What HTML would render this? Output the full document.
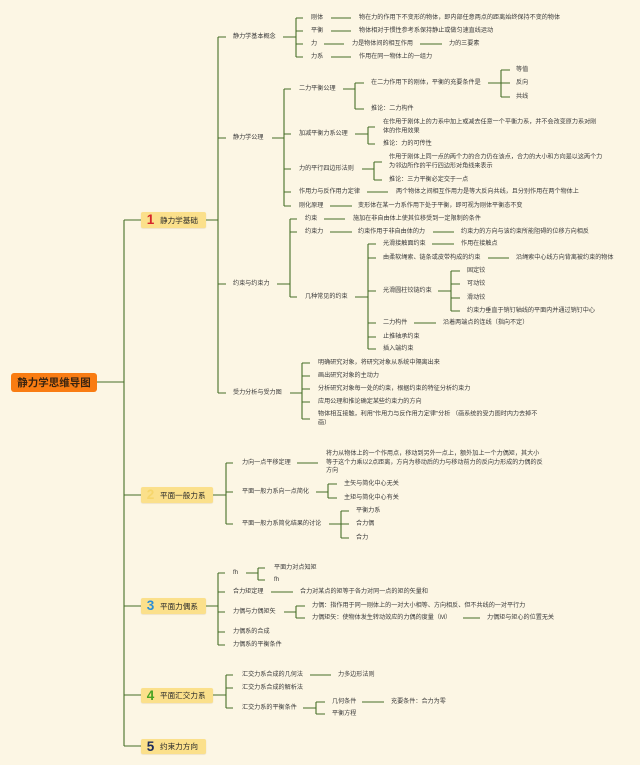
<!DOCTYPE html>
<html>
<head>
<meta charset="utf-8">
<style>
  html,body{margin:0;padding:0;}
  body{width:640px;height:765px;background:#fcf6e4;position:relative;overflow:hidden;
       font-family:"Liberation Sans","Noto Sans CJK SC",sans-serif;}
  svg{position:absolute;left:0;top:0;}
  .t{position:absolute;font-size:6.1px;line-height:8.5px;white-space:nowrap;color:#3a3a3a;transform:translateY(-50%);}
  .box{position:absolute;background:#fbe08b;border-radius:2px;display:flex;align-items:center;box-shadow:0 0.5px 1px rgba(160,120,40,0.25);}
  .box .n{font-weight:bold;font-size:13.5px;line-height:14px;width:19px;text-align:center;}
  .box .l{font-size:7.6px;color:#2a2a2a;}
  .root{position:absolute;left:11px;top:373px;width:86px;height:19px;background:#f97c12;border-radius:3px;
        display:flex;align-items:center;justify-content:center;font-weight:bold;font-size:10.5px;color:#3a2410;}
</style>
</head>
<body>
<svg width="640" height="765" viewBox="0 0 640 765">
<path fill="none" stroke="#466f28" stroke-width="1.1" d="
M97 382H124
M124 220V746
M124 220H141 M124 495H141 M124 606H141 M124 695H141 M124 746H141
M206 220H218
M218 37V393
M218 37H226 M218 138H226 M218 284H226 M218 393H226
M283 37H296 M296 18V57 M296 18H303 M296 31H303 M296 44H303 M296 57H303
M331 18H351 M331 31H351 M324 44H344 M420 44H442 M331 57H351
M272 138H284 M284 89V206 M284 89H291 M284 134H291 M284 169H291 M284 192H291 M284 206H291
M343 89H355 M355 83V109 M355 83H364 M355 109H364
M488 83H501 M501 70V97 M501 70H510 M501 83H510 M501 97H510
M355 134H368 M368 127V144 M368 127H375 M368 144H375
M362 169H374 M374 162V180 M374 162H382 M374 180H382
M367 192H388
M330 206H352
M277 284H290 M290 219V297 M290 219H297 M290 232H297 M290 297H297
M324 219H345
M330 232H352 M433 232H454
M355 297H368 M368 244V349 M368 244H376 M368 258H376 M368 291H376 M368 323H376 M368 337H376 M368 349H376
M432 244H454
M488 258H509
M438 291H451 M451 271V311 M451 271H460 M451 284H460 M451 298H460 M451 311H460
M414 323H436
M290 393H302 M302 363V419 M302 363H310 M302 376H310 M302 389H310 M302 402H310 M302 419H310
M213 495H226 M226 463V524 M226 463H233 M226 492H233 M226 524H233
M297 463H318
M316 492H328 M328 484V498 M328 484H337 M328 498H337
M329 524H341 M341 511V538 M341 511H349 M341 524H349 M341 538H349
M206 606H218 M218 573V645 M218 573H225 M218 592H225 M218 612H225 M218 632H225 M218 645H225
M246 573H258 M258 568V580 M258 568H265 M258 580H265
M271 592H293
M284 612H296 M296 606V618 M296 606H305 M296 618H305
M463 618H480
M213 695H226 M226 675V708 M226 675H233 M226 688H233 M226 708H233
M310 675H331
M303 708H316 M316 702V714 M316 702H325 M316 714H325
M362 702H384
"/>
</svg>

<div class="root">静力学思维导图</div>

<div class="box" style="left:141px;top:212px;width:65px;height:16px;"><span class="n" style="color:#d6262b;">1</span><span class="l">静力学基础</span></div>
<div class="box" style="left:141px;top:487px;width:72px;height:16px;"><span class="n" style="color:#f6d66c;">2</span><span class="l">平面一般力系</span></div>
<div class="box" style="left:141px;top:598px;width:65px;height:16px;"><span class="n" style="color:#2d8fd5;">3</span><span class="l">平面力偶系</span></div>
<div class="box" style="left:141px;top:688px;width:72px;height:15px;"><span class="n" style="color:#4aa323;">4</span><span class="l">平面汇交力系</span></div>
<div class="box" style="left:141px;top:739px;width:65px;height:15px;"><span class="n" style="color:#1d2c5c;">5</span><span class="l">约束力方向</span></div>

<!-- Branch 1 -->
<div class="t" style="left:233px;top:37px;">静力学基本概念</div>
<div class="t" style="left:311px;top:18px;">刚体</div>
<div class="t" style="left:311px;top:31px;">平衡</div>
<div class="t" style="left:311px;top:44px;">力</div>
<div class="t" style="left:311px;top:57px;">力系</div>
<div class="t" style="left:359px;top:18px;">物在力的作用下不变形的物体，即内部任意两点的距离始终保持不变的物体</div>
<div class="t" style="left:359px;top:31px;">物体相对于惯性参考系保持静止或做匀速直线运动</div>
<div class="t" style="left:352px;top:44px;">力是物体间的相互作用</div>
<div class="t" style="left:449px;top:44px;">力的三要素</div>
<div class="t" style="left:359px;top:57px;">作用在同一物体上的一组力</div>

<div class="t" style="left:233px;top:138px;">静力学公理</div>
<div class="t" style="left:299px;top:89px;">二力平衡公理</div>
<div class="t" style="left:371px;top:83px;">在二力作用下的刚体，平衡的充要条件是</div>
<div class="t" style="left:516px;top:70px;">等值</div>
<div class="t" style="left:516px;top:83px;">反向</div>
<div class="t" style="left:516px;top:97px;">共线</div>
<div class="t" style="left:371px;top:109px;">推论：二力构件</div>
<div class="t" style="left:299px;top:134px;">加减平衡力系公理</div>
<div class="t" style="left:383px;top:127px;">在作用于刚体上的力系中加上或减去任意一个平衡力系，并不会改变原力系对刚<br>体的作用效果</div>
<div class="t" style="left:383px;top:144px;">推论：力的可传性</div>
<div class="t" style="left:299px;top:169px;">力的平行四边形法则</div>
<div class="t" style="left:389px;top:162px;">作用于刚体上同一点的两个力的合力仍在该点，合力的大小和方向是以这两个力<br>为邻边所作的平行四边形对角线来表示</div>
<div class="t" style="left:389px;top:180px;">推论：三力平衡必定交于一点</div>
<div class="t" style="left:299px;top:192px;">作用力与反作用力定律</div>
<div class="t" style="left:396px;top:192px;">两个物体之间相互作用力是等大反向共线，且分别作用在两个物体上</div>
<div class="t" style="left:299px;top:206px;">刚化原理</div>
<div class="t" style="left:358px;top:206px;">变形体在某一力系作用下处于平衡，即可视为刚体平衡态不变</div>

<div class="t" style="left:233px;top:284px;">约束与约束力</div>
<div class="t" style="left:305px;top:219px;">约束</div>
<div class="t" style="left:353px;top:219px;">施加在非自由体上使其位移受到一定限制的条件</div>
<div class="t" style="left:305px;top:232px;">约束力</div>
<div class="t" style="left:358px;top:232px;">约束作用于非自由体的力</div>
<div class="t" style="left:461px;top:232px;">约束力的方向与该约束所能阻碍的位移方向相反</div>
<div class="t" style="left:305px;top:297px;">几种常见的约束</div>
<div class="t" style="left:383px;top:244px;">光滑接触面约束</div>
<div class="t" style="left:461px;top:244px;">作用在接触点</div>
<div class="t" style="left:383px;top:258px;">由柔软绳索、链条或皮带构成的约束</div>
<div class="t" style="left:516px;top:258px;">沿绳索中心线方向背离被约束的物体</div>
<div class="t" style="left:383px;top:291px;">光滑圆柱铰链约束</div>
<div class="t" style="left:467px;top:271px;">固定铰</div>
<div class="t" style="left:467px;top:284px;">可动铰</div>
<div class="t" style="left:467px;top:298px;">滑动铰</div>
<div class="t" style="left:467px;top:311px;">约束力垂直于销钉轴线的平面内并通过销钉中心</div>
<div class="t" style="left:383px;top:323px;">二力构件</div>
<div class="t" style="left:443px;top:323px;">沿着两端点的连线（指向不定）</div>
<div class="t" style="left:383px;top:337px;">止推轴承约束</div>
<div class="t" style="left:383px;top:349px;">插入端约束</div>

<div class="t" style="left:233px;top:393px;">受力分析与受力图</div>
<div class="t" style="left:318px;top:363px;">明确研究对象，将研究对象从系统中隔离出来</div>
<div class="t" style="left:318px;top:376px;">画出研究对象的主动力</div>
<div class="t" style="left:318px;top:389px;">分析研究对象每一处的约束，根据约束的特征分析约束力</div>
<div class="t" style="left:318px;top:402px;">应用公理和推论确定某些约束力的方向</div>
<div class="t" style="left:318px;top:419px;">物体相互接触，利用"作用力与反作用力定律"分析 （画系统的受力图时内力去掉不<br>画）</div>

<!-- Branch 2 -->
<div class="t" style="left:242px;top:463px;">力向一点平移定理</div>
<div class="t" style="left:326px;top:463px;line-height:8.7px;">将力从物体上的一个作用点，移动到另外一点上，额外加上一个力偶矩，其大小<br>等于这个力乘以2点距离，方向为移动后的力与移动前力的反向力形成的力偶的反<br>方向</div>
<div class="t" style="left:242px;top:492px;">平面一般力系向一点简化</div>
<div class="t" style="left:344px;top:484px;">主矢与简化中心无关</div>
<div class="t" style="left:344px;top:498px;">主矩与简化中心有关</div>
<div class="t" style="left:242px;top:524px;">平面一般力系简化结果的讨论</div>
<div class="t" style="left:356px;top:511px;">平衡力系</div>
<div class="t" style="left:356px;top:524px;">合力偶</div>
<div class="t" style="left:356px;top:538px;">合力</div>

<!-- Branch 3 -->
<div class="t" style="left:233px;top:573px;">fh</div>
<div class="t" style="left:274px;top:568px;">平面力对点知矩</div>
<div class="t" style="left:274px;top:580px;">fh</div>
<div class="t" style="left:233px;top:592px;">合力矩定理</div>
<div class="t" style="left:300px;top:592px;">合力对某点的矩等于各力对同一点的矩的矢量和</div>
<div class="t" style="left:233px;top:612px;">力偶与力偶矩矢</div>
<div class="t" style="left:312px;top:606px;">力偶：指作用于同一刚体上的一对大小相等、方向相反、但不共线的一对平行力</div>
<div class="t" style="left:312px;top:618px;">力偶矩矢：使物体发生转动效应的力偶的度量（M）</div>
<div class="t" style="left:487px;top:618px;">力偶矩与矩心的位置无关</div>
<div class="t" style="left:233px;top:632px;">力偶系的合成</div>
<div class="t" style="left:233px;top:645px;">力偶系的平衡条件</div>

<!-- Branch 4 -->
<div class="t" style="left:242px;top:675px;">汇交力系合成的几何法</div>
<div class="t" style="left:338px;top:675px;">力多边形法则</div>
<div class="t" style="left:242px;top:688px;">汇交力系合成的解析法</div>
<div class="t" style="left:242px;top:708px;">汇交力系的平衡条件</div>
<div class="t" style="left:332px;top:702px;">几何条件</div>
<div class="t" style="left:391px;top:702px;">充要条件：合力为零</div>
<div class="t" style="left:332px;top:714px;">平衡方程</div>
</body>
</html>
